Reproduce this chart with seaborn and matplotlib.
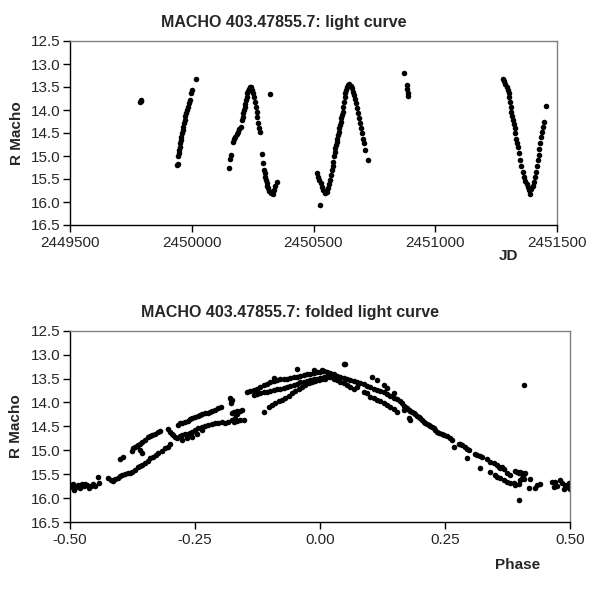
import numpy as np
import pandas as pd
import matplotlib
matplotlib.use('Agg')
import matplotlib.pyplot as plt
import seaborn as sns
from matplotlib.ticker import FormatStrFormatter

# Light curve: Julian date and R magnitude
jd = [2449789, 2449790, 2449791,
      2449941, 2449943, 2449945, 2449948, 2449949, 2449952, 2449953, 2449954, 2449957, 2449960,
      2449963, 2449965, 2449968, 2449971, 2449974, 2449976, 2449980, 2449985, 2449987, 2449991,
      2449996, 2450000, 2450017,
      2450152, 2450157, 2450160, 2450168, 2450174, 2450179, 2450184, 2450190, 2450195, 2450201,
      2450206, 2450209, 2450212, 2450215, 2450217, 2450220, 2450223, 2450226, 2450228, 2450231,
      2450234, 2450239, 2450245, 2450249, 2450253, 2450257, 2450261, 2450264, 2450267, 2450269,
      2450273, 2450278, 2450280, 2450289, 2450294, 2450297, 2450299, 2450302, 2450305, 2450308,
      2450310, 2450313, 2450319, 2450324, 2450332, 2450338, 2450343, 2450349, 2450321,
      2450527, 2450516, 2450520, 2450524, 2450530, 2450535, 2450540, 2450547, 2450554, 2450560,
      2450565, 2450568, 2450571, 2450575, 2450579, 2450582, 2450584, 2450587, 2450590, 2450592,
      2450595, 2450598, 2450601, 2450603, 2450606, 2450609, 2450612, 2450614, 2450617, 2450620,
      2450623, 2450625, 2450628, 2450631, 2450634, 2450636, 2450642, 2450647, 2450653, 2450657,
      2450661, 2450665, 2450669, 2450673, 2450677, 2450681, 2450686, 2450690, 2450694, 2450698,
      2450702, 2450707, 2450713, 2450722,
      2450873, 2450883, 2450885, 2450887, 2450890,
      2451277, 2451282, 2451288, 2451293, 2451298, 2451302, 2451304, 2451307, 2451310, 2451313,
      2451315, 2451318, 2451322, 2451326, 2451329, 2451332, 2451334, 2451339, 2451343, 2451348,
      2451354, 2451359, 2451365, 2451370, 2451376, 2451381, 2451386, 2451389, 2451395, 2451400,
      2451406, 2451410, 2451414, 2451418, 2451422, 2451425, 2451428, 2451430, 2451433, 2451437,
      2451441, 2451445, 2451454]
r_mag = [13.83, 13.80, 13.78,
         15.20, 15.17, 15.01, 14.94, 14.87, 14.80, 14.72, 14.65, 14.58, 14.51,
         14.43, 14.36, 14.29, 14.22, 14.14, 14.07, 14.00, 13.93, 13.85, 13.78,
         13.64, 13.56, 13.32,
         15.25, 15.07, 14.98, 14.69, 14.64, 14.58, 14.52, 14.47, 14.42, 14.36,
         14.22, 14.15, 14.07, 14.00, 13.93, 13.86, 13.78, 13.71, 13.64, 13.58,
         13.54, 13.49, 13.51, 13.57, 13.64, 13.71, 13.82, 13.93, 14.04, 14.15,
         14.29, 14.40, 14.47, 14.96, 15.16, 15.30, 15.38, 15.45, 15.52, 15.59,
         15.65, 15.70, 15.75, 15.80, 15.83, 15.74, 15.65, 15.56, 13.65,
         16.07, 15.38, 15.45, 15.52, 15.59, 15.67, 15.74, 15.80, 15.78, 15.70,
         15.61, 15.52, 15.41, 15.30, 15.22, 15.12, 15.01, 14.91, 14.83, 14.76,
         14.69, 14.62, 14.54, 14.47, 14.40, 14.33, 14.25, 14.18, 14.11, 14.04,
         13.93, 13.82, 13.71, 13.64, 13.57, 13.51, 13.46, 13.44, 13.48, 13.53,
         13.60, 13.67, 13.77, 13.85, 13.96, 14.07, 14.18, 14.29, 14.40, 14.51,
         14.62, 14.72, 14.86, 15.09,
         13.20, 13.46, 13.55, 13.64, 13.69,
         13.33, 13.38, 13.43, 13.49, 13.57, 13.64, 13.72, 13.82, 13.93, 14.04,
         14.13, 14.22, 14.30, 14.40, 14.51, 14.62, 14.71, 14.81, 14.94, 15.09,
         15.22, 15.34, 15.45, 15.54, 15.61, 15.68, 15.74, 15.83, 15.72, 15.65,
         15.56, 15.45, 15.34, 15.22, 15.09, 14.98, 14.85, 14.72, 14.58, 14.47,
         14.36, 14.25, 13.91]

# Folded light curve: phase and R magnitude
phase = [-0.498, -0.497, -0.494, -0.489, -0.485, -0.481, -0.477, -0.472, -0.467, -0.463,
         -0.459, -0.454, -0.451, -0.445, -0.443, -0.492, -0.470,
         -0.424, -0.419, -0.414, -0.411, -0.405, -0.401, -0.396, -0.391, -0.385, -0.381,
         -0.376, -0.371, -0.364, -0.361, -0.356, -0.351, -0.345, -0.341, -0.334, -0.329,
         -0.324, -0.317, -0.311, -0.304, -0.301,
         -0.401, -0.394, -0.377, -0.374, -0.371, -0.367, -0.364, -0.361, -0.356, -0.351,
         -0.345, -0.341, -0.336, -0.331, -0.325, -0.321, -0.361, -0.356,
         -0.304, -0.301, -0.297, -0.294, -0.291, -0.287,
         -0.285, -0.281, -0.276, -0.271, -0.265, -0.261, -0.256, -0.251, -0.245, -0.241,
         -0.236, -0.231, -0.225, -0.221, -0.216, -0.211, -0.204, -0.199,
         -0.281, -0.276, -0.271, -0.265, -0.261, -0.256, -0.251, -0.244, -0.237, -0.231,
         -0.224, -0.217, -0.211, -0.204, -0.197, -0.191, -0.184, -0.177, -0.171,
         -0.277, -0.267, -0.257, -0.247, -0.237,
         -0.179, -0.179, -0.177, -0.171, -0.167,
         -0.173, -0.167, -0.160, -0.153, -0.173, -0.167, -0.160, -0.157, -0.180, -0.177,
         -0.147, -0.140, -0.133, -0.127, -0.120, -0.113, -0.107, -0.100, -0.093, -0.087,
         -0.080, -0.073, -0.067, -0.060, -0.053, -0.047, -0.040, -0.033, -0.027, -0.020,
         -0.013, -0.007, 0.000, 0.007, 0.013, -0.047, -0.093, -0.013, 0.003,
         -0.133, -0.127, -0.120, -0.113, -0.107, -0.100, -0.093, -0.087, -0.080, -0.073,
         -0.067, -0.060, -0.053, -0.047, -0.040, -0.033, -0.027, -0.020, -0.013, -0.007,
         0.000, 0.007, 0.013,
         -0.113, -0.103, -0.097, -0.090, -0.083, -0.077, -0.070, -0.063, -0.057, -0.050,
         -0.043, -0.037, -0.030, -0.023, -0.017, -0.010, -0.003, 0.003, 0.010,
         0.020, 0.027, 0.033, 0.040, 0.047, 0.053, 0.060, 0.067, 0.073, 0.080,
         0.087, 0.093, 0.100, 0.107, 0.113, 0.120, 0.127, 0.133, 0.140, 0.147, 0.153,
         0.020, 0.027, 0.033, 0.040, 0.047, 0.053, 0.060, 0.067, 0.073, 0.087,
         0.093, 0.100, 0.107, 0.113, 0.120, 0.127, 0.133, 0.140, 0.147, 0.153,
         0.047, 0.050, 0.103, 0.113, 0.127, 0.133, 0.147,
         0.160, 0.163, 0.167, 0.170, 0.173, 0.177, 0.180, 0.183, 0.187, 0.190,
         0.193, 0.197, 0.200, 0.203, 0.207, 0.210, 0.213, 0.217, 0.220, 0.223,
         0.227, 0.230, 0.233, 0.237, 0.243, 0.247, 0.253, 0.260, 0.263, 0.267,
         0.277, 0.280, 0.283, 0.290, 0.293, 0.293, 0.297, 0.310, 0.313, 0.320,
         0.323, 0.320, 0.333, 0.340, 0.340, 0.347, 0.350, 0.353, 0.357, 0.360,
         0.363, 0.367, 0.353, 0.360, 0.367, 0.373, 0.373, 0.380, 0.380, 0.387,
         0.390, 0.393, 0.397, 0.400, 0.403, 0.407, 0.410, 0.390, 0.397, 0.400,
         0.403, 0.407, 0.417, 0.420, 0.397, 0.407, 0.430, 0.433, 0.440, 0.463,
         0.467, 0.470, 0.473, 0.480, 0.483, 0.487, 0.490, 0.493, 0.497, 0.499,
         0.167, 0.177, 0.180]
f_mag = [15.73, 15.76, 15.71, 15.76, 15.73, 15.78, 15.71, 15.75, 15.73, 15.78,
         15.75, 15.71, 15.75, 15.55, 15.69, 15.84, 15.70,
         15.59, 15.62, 15.64, 15.61, 15.57, 15.54, 15.52, 15.50, 15.48, 15.47,
         15.45, 15.41, 15.36, 15.33, 15.31, 15.26, 15.22, 15.17, 15.14, 15.10,
         15.05, 15.01, 14.96, 14.93, 14.87,
         15.19, 15.15, 15.01, 14.96, 14.94, 14.91, 14.89, 14.86, 14.82, 14.79,
         14.73, 14.70, 14.68, 14.65, 14.62, 14.60, 14.99, 15.05,
         14.56, 14.61, 14.65, 14.68, 14.72, 14.75,
         14.47, 14.44, 14.42, 14.40, 14.38, 14.35, 14.33, 14.31, 14.28, 14.26,
         14.24, 14.23, 14.22, 14.19, 14.17, 14.16, 14.12, 14.10,
         14.70, 14.68, 14.66, 14.65, 14.63, 14.61, 14.58, 14.54, 14.51, 14.49,
         14.47, 14.45, 14.44, 14.42, 14.40, 14.44, 14.40, 14.37, 14.33,
         14.79, 14.75, 14.72, 14.66, 14.58,
         13.94, 14.02, 14.23, 14.22, 14.17,
         14.40, 14.39, 14.37, 14.37, 14.19, 14.25, 14.18, 14.16, 13.91, 13.95,
         13.79, 13.76, 13.73, 13.71, 13.67, 13.64, 13.61, 13.58, 13.55, 13.53,
         13.51, 13.51, 13.50, 13.48, 13.47, 13.46, 13.44, 13.43, 13.41, 13.40,
         13.39, 13.37, 13.36, 13.34, 13.36, 13.30, 13.48, 13.32, 13.32,
         13.84, 13.83, 13.81, 13.79, 13.78, 13.76, 13.74, 13.72, 13.71, 13.69,
         13.67, 13.65, 13.64, 13.61, 13.58, 13.57, 13.55, 13.53, 13.51, 13.50,
         13.48, 13.47, 13.46,
         14.19, 14.09, 14.05, 14.02, 13.98, 13.95, 13.90, 13.86, 13.81, 13.76,
         13.72, 13.67, 13.64, 13.60, 13.57, 13.55, 13.54, 13.51, 13.50,
         13.39, 13.41, 13.44, 13.46, 13.48, 13.51, 13.53, 13.55, 13.57, 13.60,
         13.62, 13.65, 13.67, 13.71, 13.74, 13.76, 13.79, 13.83, 13.86, 13.90, 13.93,
         13.46, 13.50, 13.53, 13.57, 13.60, 13.64, 13.67, 13.71, 13.67, 13.78,
         13.81, 13.88, 13.91, 13.95, 13.98, 14.02, 14.05, 14.09, 14.14, 14.19,
         13.20, 13.20, 13.46, 13.53, 13.64, 13.69, 13.81,
         13.98, 14.02, 14.08, 14.10, 14.12, 14.15, 14.17, 14.19, 14.22, 14.25,
         14.28, 14.30, 14.33, 14.37, 14.40, 14.42, 14.45, 14.47, 14.49, 14.52,
         14.54, 14.58, 14.61, 14.63, 14.65, 14.68, 14.70, 14.75, 14.79, 14.94,
         14.86, 14.87, 14.89, 14.94, 14.98, 15.17, 15.00, 15.07, 15.10, 15.12,
         15.15, 15.38, 15.19, 15.24, 15.45, 15.27, 15.52, 15.31, 15.34, 15.38,
         15.34, 15.40, 15.55, 15.59, 15.62, 15.47, 15.66, 15.52, 15.68, 15.69,
         15.43, 15.45, 15.48, 15.45, 15.48, 15.50, 15.47, 15.73, 15.71, 15.62,
         15.59, 15.61, 15.78, 15.61, 16.04, 13.64, 15.78, 15.73, 15.71, 15.66,
         15.76, 15.66, 15.75, 15.62, 15.69, 15.80, 15.73, 15.76, 15.69, 15.80,
         14.16, 14.33, 14.37]

jd_ticks = [2449500, 2450000, 2450500, 2451000, 2451500]
phase_ticks = [-0.50, -0.25, 0.00, 0.25, 0.50]
mag_ticks = [12.5, 13.0, 13.5, 14.0, 14.5, 15.0, 15.5, 16.0, 16.5]

sns.set_style('white')
plt.rcParams['font.family'] = ['Liberation Sans', 'DejaVu Sans']

fig = plt.figure(figsize=(6, 6), dpi=100)
ax1 = fig.add_axes([70/600, 1-225/600, 487/600, 184/600])
ax2 = fig.add_axes([70/600, 1-522/600, 500/600, 191.3/600])

sns.scatterplot(x=jd, y=r_mag, ax=ax1, color='black', s=16, linewidth=0)
sns.scatterplot(x=phase, y=f_mag, ax=ax2, color='black', s=16, linewidth=0)

def style_axis(ax, xticks, xfmt, xlabel, xlab_pos, ylab_x):
    ax.set_ylim(16.5, 12.5)
    ax.set_xlim(xticks[0], xticks[-1])
    ax.set_xticks(xticks)
    ax.set_yticks(mag_ticks)
    ax.xaxis.set_major_formatter(FormatStrFormatter(xfmt))
    ax.yaxis.set_major_formatter(FormatStrFormatter('%.1f'))
    ax.tick_params(axis='both', direction='out', length=5, width=1, color='black',
                   labelsize=11, bottom=True, left=True)
    ax.tick_params(axis='x', pad=3)
    ax.tick_params(axis='y', pad=1.5)
    for s in ['left', 'bottom']:
        ax.spines[s].set_color('black')
        ax.spines[s].set_linewidth(1)
    for s in ['top', 'right']:
        ax.spines[s].set_color('#808080')
        ax.spines[s].set_linewidth(1)
    ax.set_xlabel(xlabel, fontweight='bold', fontsize=11)
    ax.xaxis.set_label_coords(*xlab_pos)
    ax.set_ylabel('R Macho', fontweight='bold', fontsize=11)
    ax.yaxis.set_label_coords(ylab_x, 0.5)

style_axis(ax1, jd_ticks, '%d', 'JD', (0.9, -0.13), -0.095)
style_axis(ax2, phase_ticks, '%.2f', 'Phase', (0.896, -0.19), -0.093)

fig.text(284/600, 1-22/600, 'MACHO 403.47855.7: light curve',
         ha='center', va='center', fontweight='bold', fontsize=11.5)
fig.text(290/600, 1-312/600, 'MACHO 403.47855.7: folded light curve',
         ha='center', va='center', fontweight='bold', fontsize=11.5)

fig.savefig('out.png', dpi=100)
